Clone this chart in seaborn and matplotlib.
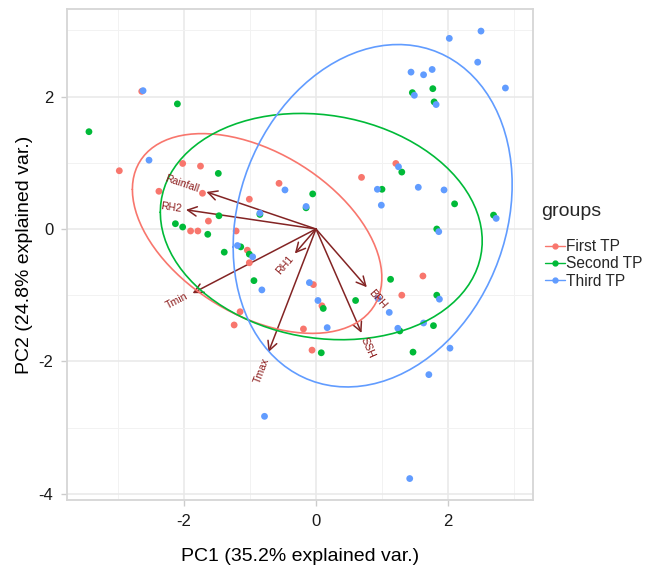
import numpy as np
import pandas as pd
import seaborn as sns
import matplotlib.pyplot as plt
from matplotlib.lines import Line2D
from matplotlib.textpath import TextPath
from matplotlib.font_manager import FontProperties

# PCA scores, one pair of lists per group
first_pc1 = [-2.64, -2.98, -2.02, -1.75, -2.38, -1.72, -1.01, -0.56, 0.69, 1.21, -1.63, -1.90,
             -1.79, -1.21, -1.04, -1.01, -0.04, 0.09, 1.62, 1.30, -1.15, -1.24, -0.19, -0.06]
first_pc2 = [2.08, 0.88, 0.99, 0.95, 0.57, 0.54, 0.45, 0.69, 0.78, 0.99, 0.12, -0.03,
             -0.03, -0.03, -0.32, -0.51, -0.84, -1.16, -0.71, -1.00, -1.25, -1.45, -1.51, -1.83]

second_pc1 = [1.46, 1.77, 1.79, -2.10, -3.44, -1.48, -0.05, -0.85, -0.15, 1.30, 1.00, 2.10,
              2.69, 1.83, -1.47, -2.13, -2.02, -1.64, -1.14, -1.39, -1.01, -0.94, 0.11, 0.60,
              1.13, 1.83, 1.27, 1.78, 0.08, 1.47]
second_pc2 = [2.06, 2.12, 1.92, 1.89, 1.47, 0.84, 0.53, 0.22, 0.32, 0.86, 0.60, 0.38,
              0.21, 0.00, 0.20, 0.08, 0.03, -0.08, -0.27, -0.35, -0.38, -0.78, -1.20, -1.08,
              -0.76, -1.00, -1.54, -1.46, -1.87, -1.86]

third_pc1 = [2.50, 2.02, 2.45, 1.44, 1.63, 1.76, 2.87, 1.49, 1.82, -2.62, -2.53, -0.47,
             -0.85, -0.15, 1.25, 0.93, 0.99, 1.55, 1.94, 2.73, 1.86, -1.19, -0.96, -0.82,
             -0.10, 0.03, 0.94, 1.87, 1.11, 0.17, 1.24, 1.63, 2.03, 1.71, -0.78, 1.42]
third_pc2 = [2.99, 2.88, 2.52, 2.37, 2.33, 2.41, 2.13, 2.02, 1.88, 2.09, 1.04, 0.59,
             0.24, 0.34, 0.94, 0.60, 0.36, 0.63, 0.59, 0.16, -0.04, -0.25, -0.42, -0.92,
             -0.81, -1.08, -1.05, -1.06, -1.26, -1.49, -1.50, -1.42, -1.80, -2.20, -2.83, -3.77]

groups = ['First TP', 'Second TP', 'Third TP']
colors = ['#F8766D', '#00BA38', '#619CFF']

# variable loadings (arrow tips)
var_names = ['Rainfall', 'RH2', 'Tmin', 'RH1', 'Tmax', 'SSH', 'BPH']
load_pc1 = [-1.66, -1.97, -1.87, -0.32, -0.72, 0.69, 0.77]
load_pc2 = [0.56, 0.29, -0.97, -0.37, -1.86, -1.57, -0.88]

df = pd.concat([
    pd.DataFrame({'PC1': first_pc1, 'PC2': first_pc2, 'groups': groups[0]}),
    pd.DataFrame({'PC1': second_pc1, 'PC2': second_pc2, 'groups': groups[1]}),
    pd.DataFrame({'PC1': third_pc1, 'PC2': third_pc2, 'groups': groups[2]}),
], ignore_index=True)

# 68% normal-probability ellipse per group, same recipe as ggbiplot
theta = np.linspace(-np.pi, np.pi, 100)
circle = np.column_stack([np.cos(theta), np.sin(theta)])
ed = np.sqrt(-2 * np.log(1 - 0.68))
ell_parts = []
for g in groups:
    sub = df[df.groups == g][['PC1', 'PC2']].to_numpy()
    mu = sub.mean(axis=0)
    L = np.linalg.cholesky(np.cov(sub.T))
    pts = circle @ L.T * ed + mu
    ell_parts.append(pd.DataFrame({'x': pts[:, 0], 'y': pts[:, 1], 'groups': g}))
ell = pd.concat(ell_parts, ignore_index=True)

sns.set_theme(style='white')
fam = 'Liberation Sans'
plt.rcParams['font.family'] = [fam, 'DejaVu Sans']
plt.rcParams['axes.unicode_minus'] = False
base = 14
small = 11.2
var_size = 7.6

fig = plt.figure(figsize=(6.49, 5.70), dpi=100)
ax = fig.add_axes([67.3 / 649, 1 - 500 / 570, 465.7 / 649, 490.7 / 570])

# arrows for the variables
for name, vx, vy in zip(var_names, load_pc1, load_pc2):
    ax.annotate('', xy=(vx, vy), xytext=(0, 0),
                arrowprops=dict(arrowstyle='->,head_length=0.55,head_width=0.28',
                                color='#832424', lw=1.1, shrinkA=0, shrinkB=0),
                zorder=2)

sns.scatterplot(data=df, x='PC1', y='PC2', hue='groups', palette=colors, hue_order=groups,
                s=24, linewidth=0, ax=ax, legend=False, zorder=3)
sns.lineplot(data=ell, x='x', y='y', hue='groups', palette=colors, hue_order=groups,
             sort=False, estimator=None, lw=1.2, ax=ax, legend=False, zorder=4)

# variable names, rotated along the arrow and pushed past its tip
for name, vx, vy in zip(var_names, load_pc1, load_pc2):
    ang = np.degrees(np.arctan(vy / vx))
    w = TextPath((0, 0), name, size=var_size, prop=FontProperties(family=fam)).get_extents().width
    sgn = np.sign(vx)
    off = 0.25 * w * sgn
    ax.annotate(name, xy=(vx, vy), xytext=(off * np.cos(np.radians(ang)), off * np.sin(np.radians(ang))),
                textcoords='offset points', rotation=ang, rotation_mode='anchor',
                ha='left' if sgn > 0 else 'right', va='center',
                color='#8B1A1A', fontsize=var_size, zorder=5)

ax.set_xlim(-3.768, 3.288)
ax.set_ylim(-4.094, 3.319)
ax.set_xticks([-2, 0, 2])
ax.set_yticks([-4, -2, 0, 2])
ax.set_xticks([-3, -1, 1, 3], minor=True)
ax.set_yticks([-3, -1, 1, 3], minor=True)
ax.grid(True, which='major', color='#E8E8E8', lw=1.1)
ax.grid(True, which='minor', color='#F2F2F2', lw=0.7)
ax.set_axisbelow(True)
ax.tick_params(which='major', length=4, width=1, color='#CCCCCC', labelsize=12,
               labelcolor='#1A1A1A', pad=6, bottom=True, left=True)
ax.tick_params(which='minor', length=0)
for sp in ax.spines.values():
    sp.set_color('#D6D6D6')
    sp.set_linewidth(1.3)

ax.set_xlabel('PC1 (35.2% explained var.)', fontsize=base, color='black', labelpad=14)
ax.set_ylabel('PC2 (24.8% explained var.)', fontsize=base, color='black', labelpad=4)

# legend: title set apart from the keys as ggplot does
handles = [Line2D([0], [0], color=c, marker='o', markersize=3.5, lw=1.0) for c in colors]
fig.text(541 / 649, 1 - 212 / 570, 'groups', fontsize=base, ha='left', va='center')
fig.legend(handles, groups, loc='upper left',
           bbox_to_anchor=(531 / 649, 1 - 225 / 570), frameon=False,
           handlelength=1.3, handletextpad=0.05, labelspacing=0.15,
           fontsize=small)

fig.savefig('out.png', dpi=100)
